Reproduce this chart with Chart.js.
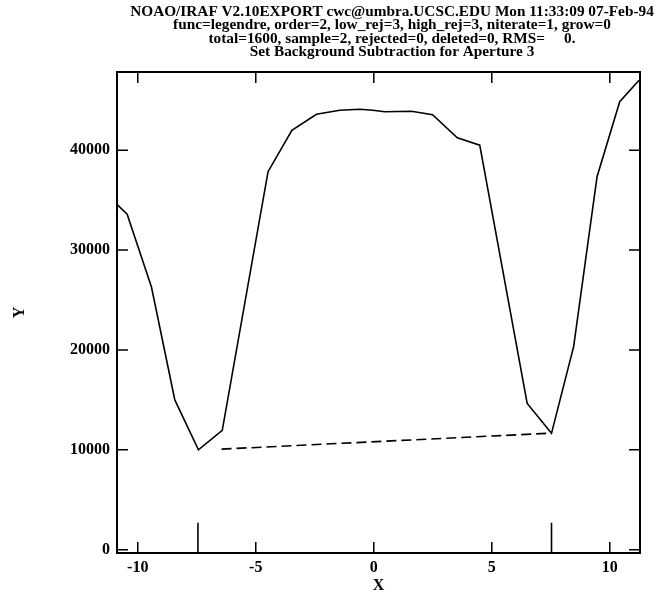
<!DOCTYPE html>
<html>
<head>
<meta charset="utf-8">
<script src="https://cdn.jsdelivr.net/npm/chart.js@4.4.0/dist/chart.umd.min.js"></script>
<style>
  html, body { margin: 0; padding: 0; background: #fff; }
  #wrap { width: 667px; height: 595px; }
</style>
</head>
<body>
<div id="wrap"><canvas id="irafPlot" width="667" height="595"></canvas></div>
<script>
const titleLines = [
  'NOAO/IRAF V2.10EXPORT cwc@umbra.UCSC.EDU Mon 11:33:09 07-Feb-94',
  'func=legendre, order=2, low_rej=3, high_rej=3, niterate=1, grow=0',
  'total=1600, sample=2, rejected=0, deleted=0, RMS=     0.',
  'Set Background Subtraction for Aperture 3'
];

// aperture profile
const profileX = [-10.85, -10.45, -9.42, -8.43, -7.43, -6.42, -4.48, -3.47, -2.43, -1.44, -0.59, -0.04, 0.47, 1.6, 2.49, 3.54, 4.49, 6.5, 7.53, 8.47, 9.46, 10.42, 11.24];
const profileY = [34500, 33600, 26300, 15000, 10000, 11950, 37850, 42000, 43600, 44000, 44100, 44000, 43850, 43900, 43550, 41250, 40500, 14650, 11650, 20350, 37350, 44850, 47000];

// background fit (dashed)
const fitX = [-6.45, 7.53];
const fitY = [10070, 11670];

// sample region markers
const sampleX = [-7.45, 7.53];
const sampleTop = 2700;

const xTickValues = [-10, -5, 0, 5, 10];
const yTickValues = [0, 10000, 20000, 30000, 40000];

const xMin = -10.88, xMax = 11.28;
const yMin = -330, yMax = 47830;

const serifBold = { family: '"Liberation Serif", "Times New Roman", serif', weight: 'bold', size: 16 };

const toPoints = (xs, ys) => xs.map((x, i) => ({ x: x, y: ys[i] }));

const markerPoints = [];
sampleX.forEach((x) => {
  markerPoints.push({ x: x, y: yMin }, { x: x, y: sampleTop }, { x: x, y: null });
});

// Draws the frame and inward ticks on all four sides, plus the header text
const iraFrame = {
  id: 'iraFrame',
  afterDatasetsDraw(chart) {
    const { ctx, chartArea: a, scales } = chart;
    const tick = 11;
    ctx.save();
    ctx.strokeStyle = '#000';
    ctx.lineWidth = 2;
    ctx.strokeRect(a.left, a.top, a.right - a.left, a.bottom - a.top);
    ctx.lineWidth = 1.5;
    ctx.beginPath();
    xTickValues.forEach((v) => {
      const px = scales.x.getPixelForValue(v);
      ctx.moveTo(px, a.bottom); ctx.lineTo(px, a.bottom - tick);
      ctx.moveTo(px, a.top); ctx.lineTo(px, a.top + tick);
    });
    yTickValues.forEach((v) => {
      const py = scales.y.getPixelForValue(v);
      ctx.moveTo(a.left, py); ctx.lineTo(a.left + tick, py);
      ctx.moveTo(a.right, py); ctx.lineTo(a.right - tick, py);
    });
    ctx.stroke();

    ctx.fillStyle = '#000';
    ctx.font = 'bold 15.3px "Liberation Serif", serif';
    ctx.textAlign = 'center';
    ctx.textBaseline = 'alphabetic';
    titleLines.forEach((line, i) => {
      ctx.fillText(line, 392, 16 + i * 13.4);
    });
    ctx.restore();
  }
};

const ctx = document.getElementById('irafPlot');

new Chart(ctx, {
  type: 'scatter',
  data: {
    datasets: [
      {
        data: toPoints(profileX, profileY),
        showLine: true,
        borderColor: '#000',
        borderWidth: 1.6,
        pointRadius: 0,
        tension: 0
      },
      {
        data: toPoints(fitX, fitY),
        showLine: true,
        borderColor: '#000',
        borderWidth: 1.6,
        borderDash: [10, 5],
        pointRadius: 0
      },
      {
        data: markerPoints,
        showLine: true,
        spanGaps: false,
        borderColor: '#000',
        borderWidth: 1.6,
        pointRadius: 0
      }
    ]
  },
  options: {
    responsive: false,
    animation: false,
    events: [],
    layout: { padding: { top: 72, right: 27, left: 0, bottom: 0 } },
    plugins: {
      legend: { display: false },
      tooltip: { enabled: false },
      title: { display: false }
    },
    scales: {
      x: {
        type: 'linear',
        min: xMin,
        max: xMax,
        border: { display: false },
        grid: { display: false, drawTicks: false },
        afterBuildTicks: (scale) => { scale.ticks = xTickValues.map((v) => ({ value: v })); },
        afterFit: (scale) => { scale.height = 42; },
        ticks: { color: '#000', font: serifBold, padding: 5, maxRotation: 0, callback: (v) => String(v) },
        title: { display: true, text: 'X', color: '#000', font: serifBold, padding: { top: 0, bottom: 0 } }
      },
      y: {
        type: 'linear',
        min: yMin,
        max: yMax,
        border: { display: false },
        grid: { display: false, drawTicks: false },
        afterBuildTicks: (scale) => { scale.ticks = yTickValues.map((v) => ({ value: v })); },
        afterFit: (scale) => { scale.width = 117; },
        ticks: { color: '#000', font: serifBold, padding: 7, callback: (v) => String(v) },
        title: { display: true, text: 'Y', color: '#000', font: serifBold, padding: { top: 10, bottom: 0 } }
      }
    }
  },
  plugins: [iraFrame]
});
</script>
</body>
</html>
